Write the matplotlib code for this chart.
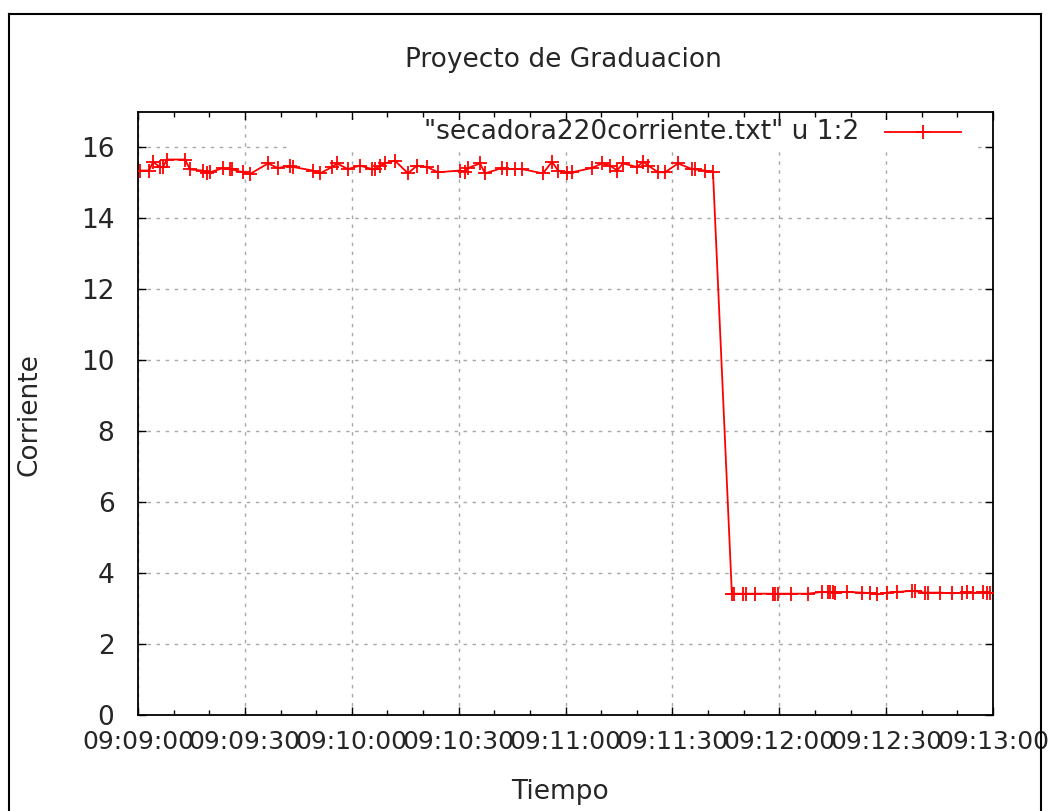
import matplotlib
matplotlib.use('Agg')
import matplotlib.pyplot as plt
from matplotlib.ticker import MultipleLocator
from matplotlib.patches import Rectangle
from matplotlib.lines import Line2D

# seconds after 09:09:00
t_high = [0.6, 3.1, 4.2, 6.2, 7.0, 8.1, 13.2, 14.6, 18.2, 19.4, 20.2, 23.9, 25.8, 26.4, 29.5,
          31.4, 36.5, 39.3, 42.7, 43.5, 49.1, 51.1, 54.5, 55.9, 58.9, 62.3, 65.7, 66.5, 67.9,
          69.3, 72.1, 75.8, 78.3, 81.1, 84.2, 90.4, 91.8, 92.6, 96.0, 97.4, 102.2, 103.6, 105.8,
          107.8, 113.7, 116.2, 117.9, 120.4, 121.8, 127.4, 130.2, 132.5, 134.5, 136.1, 140.1,
          141.8, 143.2, 146.0, 147.9, 151.6, 155.5, 156.4, 159.2, 161.4]
i_high = [15.35, 15.35, 15.59, 15.45, 15.45, 15.66, 15.66, 15.38, 15.35, 15.27, 15.30, 15.42,
          15.40, 15.38, 15.30, 15.25, 15.55, 15.42, 15.49, 15.45, 15.35, 15.27, 15.45, 15.55,
          15.39, 15.49, 15.39, 15.38, 15.49, 15.55, 15.63, 15.27, 15.49, 15.45, 15.30, 15.35,
          15.32, 15.42, 15.55, 15.27, 15.42, 15.39, 15.39, 15.39, 15.27, 15.60, 15.35, 15.27,
          15.30, 15.42, 15.55, 15.49, 15.35, 15.55, 15.45, 15.60, 15.49, 15.30, 15.30, 15.55,
          15.39, 15.38, 15.35, 15.30]
t_low = [166.7, 167.3, 169.8, 170.7, 173.2, 178.2, 178.8, 179.6, 183.3, 188.1, 192.0, 193.7,
         194.2, 195.1, 195.6, 199.0, 203.2, 205.5, 207.4, 210.2, 213.1, 217.3, 218.1, 220.9,
         221.8, 225.1, 228.5, 231.3, 232.7, 234.4, 237.2, 238.3, 239.2]
i_low = [3.42, 3.42, 3.42, 3.42, 3.42, 3.42, 3.42, 3.42, 3.42, 3.42, 3.47, 3.47, 3.47, 3.47,
         3.45, 3.47, 3.45, 3.44, 3.40, 3.45, 3.47, 3.50, 3.49, 3.45, 3.45, 3.45, 3.43, 3.45,
         3.47, 3.44, 3.47, 3.44, 3.45]

tiempo = t_high + t_low
corriente = i_high + i_low
x_ticklabels = ['09:09:00', '09:09:30', '09:10:00', '09:10:30', '09:11:00',
                '09:11:30', '09:12:00', '09:12:30', '09:13:00']

txt = '#262626'
fs = 19
plt.rcParams['font.family'] = 'DejaVu Sans'
fig = plt.figure(figsize=(10.5, 8.11), dpi=100)
ax = fig.add_axes([138 / 1050, 1 - 715 / 811, 855 / 1050, 603 / 811])

ax.plot(tiempo, corriente, color='red', lw=1.3, marker='+', ms=10, mew=1.3, zorder=3)

ax.set_xlim(0, 240)
ax.set_ylim(0, 17)
ax.set_xticks(range(0, 241, 30))
ax.set_xticklabels(x_ticklabels)
ax.xaxis.set_minor_locator(MultipleLocator(10))
ax.set_yticks(range(0, 17, 2))
ax.tick_params(which='both', direction='in', top=True, right=True, labelsize=fs,
               color='black', labelcolor=txt)
ax.tick_params(axis='x', labelsize=18)
ax.tick_params(which='major', length=6, width=1)
ax.tick_params(which='minor', length=3.5, width=1)
ax.tick_params(axis='x', pad=11)
ax.tick_params(axis='y', pad=17)
for s in ax.spines.values():
    s.set_linewidth(1.3)

ax.set_axisbelow(True)
ax.grid(True, which='major', color='#a8a8a8', ls=(0, (2.5, 4)), lw=1)

# opaque key area like gnuplot
ax.add_patch(Rectangle((0.178, 0.934), 0.804, 0.052, transform=ax.transAxes,
                       facecolor='white', edgecolor='none', zorder=1.5))
ax.text(0.843, 0.967, '"secadora220corriente.txt" u 1:2', transform=ax.transAxes,
        ha='right', va='center', fontsize=fs, color=txt, zorder=4)
ax.add_line(Line2D([0.874, 0.963], [0.967, 0.967], transform=ax.transAxes, color='red',
                   lw=1.3, zorder=4))
ax.add_line(Line2D([0.9185], [0.967], transform=ax.transAxes, color='red', marker='+',
                   ms=10, mew=1.3, zorder=4))

fig.text(563 / 1050, 1 - 60 / 811, 'Proyecto de Graduacion', ha='center', va='center',
         fontsize=fs, color=txt)
fig.text(30 / 1050, 1 - 415 / 811, 'Corriente', ha='center', va='center', rotation=90,
         fontsize=fs, color=txt)
fig.text(560 / 1050, 1 - 792 / 811, 'Tiempo', ha='center', va='center', fontsize=fs, color=txt)

# outer frame
for xs, ys in [([9, 9], [0, 797]), ([9, 1041], [797, 797]), ([1041, 1041], [0, 797])]:
    fig.add_artist(Line2D([x / 1050 for x in xs], [y / 811 for y in ys], color='black', lw=1.5))

fig.savefig('out.png', dpi=100)
